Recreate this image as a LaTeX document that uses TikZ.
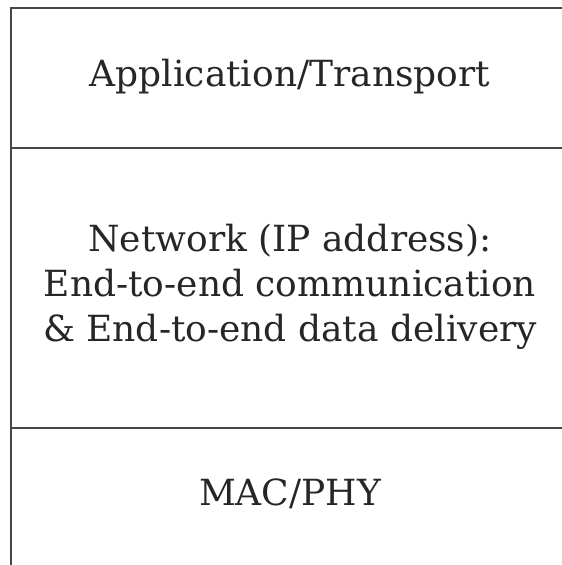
\documentclass[tikz,border=0pt]{standalone}
\usepackage{fontspec}
\setmainfont{DejaVu Serif}
\tikzset{
  layerline/.style={line width=2.6pt, draw=black!72},
  layertext/.style={align=center, font=\fontsize{36}{45}\selectfont, text=black!85, inner sep=0pt}
}
\begin{document}
\begin{tikzpicture}[x=1pt,y=-1pt]
\useasboundingbox (0,0) rectangle (562,565);
\coordinate (tl) at (11,8);
\coordinate (tr) at (562,8);
\coordinate (bl) at (11,565);
\coordinate (m1l) at (11,148);
\coordinate (m1r) at (562,148);
\coordinate (m2l) at (11,428);
\coordinate (m2r) at (562,428);
\draw[layerline] (bl) -- (tl) -- (tr);
\draw[layerline] (m1l) -- (m1r);
\draw[layerline] (m2l) -- (m2r);
\node[layertext] (app) at (290,77) {Application/Transport};
\node[layertext] (net) at (290,287) {Network (IP address):\\End-to-end communication\\\& End-to-end data delivery};
\node[layertext] (mac) at (290,494) {MAC/PHY};
\end{tikzpicture}
\end{document}
